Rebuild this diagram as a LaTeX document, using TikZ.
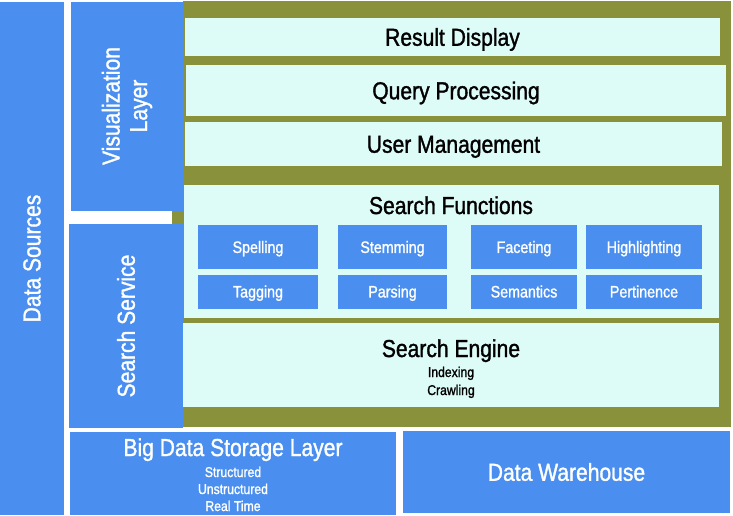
\documentclass[tikz,border=0pt]{standalone}
\usepackage{fontspec}
\setmainfont[FakeStretch=0.86, FakeBold=1.3]{Liberation Sans}
\usetikzlibrary{positioning}

\definecolor{layerblue}{RGB}{74,143,240}
\definecolor{olivebg}{RGB}{137,145,58}
\definecolor{paleaqua}{RGB}{221,251,247}

\tikzset{
  layer/.style={fill=layerblue, text=white, inner sep=0pt, outer sep=0pt, align=center,
    font=\fontsize{24.5}{27.5}\selectfont},
  panel/.style={fill=paleaqua, text=black, inner sep=0pt, outer sep=0pt, anchor=north west,
    font=\fontsize{24.5}{27.5}\selectfont, text height=17.5pt, text depth=0pt},
  chip/.style={fill=layerblue, text=white, inner sep=0pt, outer sep=0pt, anchor=north west,
    font=\fontsize{16.6}{19}\selectfont, text height=11.9pt, text depth=0pt},
  heading/.style={inner sep=0pt, anchor=base, font=\fontsize{24.5}{27.5}\selectfont},
  subline/.style={inner sep=0pt, anchor=base, font=\fontsize{14.2}{17}\selectfont},
}

\begin{document}
\begin{tikzpicture}[x=1pt, y=-1pt]
    \useasboundingbox (0,0) rectangle (733,515);

    % olive backdrop behind the service stack
    \fill[olivebg] (183,1) rectangle (731,427);
    \fill[olivebg] (172,210) rectangle (183,224);

    % left column layers
    \node[layer, rotate=90, minimum width=513pt, minimum height=64pt] (sources) at (32,258.5) {Data Sources};
    \node[layer, rotate=90, minimum width=209pt, minimum height=112pt] (viz) at (127,106) {Visualization\\Layer};
    \node[layer, rotate=90, minimum width=204pt, minimum height=114pt] (searchsvc) at (126,326) {Search Service};

    % visualization panels
    \node[panel, minimum width=535pt, minimum height=38pt] (result) at (185,18) {Result Display};
    \node[panel, minimum width=540pt, minimum height=51pt] (query) at (186,65) {Query Processing};
    \node[panel, minimum width=537pt, minimum height=44pt] (users) at (185,122) {User Management};

    % search functions
    \node[panel, minimum width=535pt, minimum height=133pt] (funcs) at (184,185) {};
    \node[heading] (functitle) at (451,214) {Search Functions};
    \node[chip, minimum width=120pt, minimum height=44pt] (spell) at (198,225) {Spelling};
    \node[chip, minimum width=109pt, minimum height=44pt] (stem) at (338,225) {Stemming};
    \node[chip, minimum width=106pt, minimum height=44pt] (facet) at (471,225) {Faceting};
    \node[chip, minimum width=116pt, minimum height=44pt] (highlight) at (586,225) {Highlighting};
    \node[chip, minimum width=120pt, minimum height=34pt] (tag) at (198,274.5) {Tagging};
    \node[chip, minimum width=109pt, minimum height=34pt] (parse) at (338,274.5) {Parsing};
    \node[chip, minimum width=106pt, minimum height=34pt] (semantic) at (471,274.5) {Semantics};
    \node[chip, minimum width=116pt, minimum height=34pt] (pertinent) at (586,274.5) {Pertinence};

    % search engine
    \node[panel, minimum width=536pt, minimum height=84pt] (engine) at (183,323) {};
    \node[heading] (enginetitle) at (451,357) {Search Engine};
    \node[subline] (indexing) at (451,377) {Indexing};
    \node[subline] (crawling) at (451,395) {Crawling};

    % storage row
    \node[layer, anchor=north west, minimum width=326pt, minimum height=83pt] (storage) at (70,432) {};
    \node[heading, text=white] (storagetitle) at (233,456) {Big Data Storage Layer};
    \node[subline, text=white] (structured) at (233,477) {Structured};
    \node[subline, text=white] (unstructured) at (233,494) {Unstructured};
    \node[subline, text=white] (realtime) at (233,511) {Real Time};
    \node[layer, anchor=north west, minimum width=327pt, minimum height=82pt,
      text height=17.5pt, text depth=0pt] (warehouse) at (403,431) {Data Warehouse};
\end{tikzpicture}
\end{document}
